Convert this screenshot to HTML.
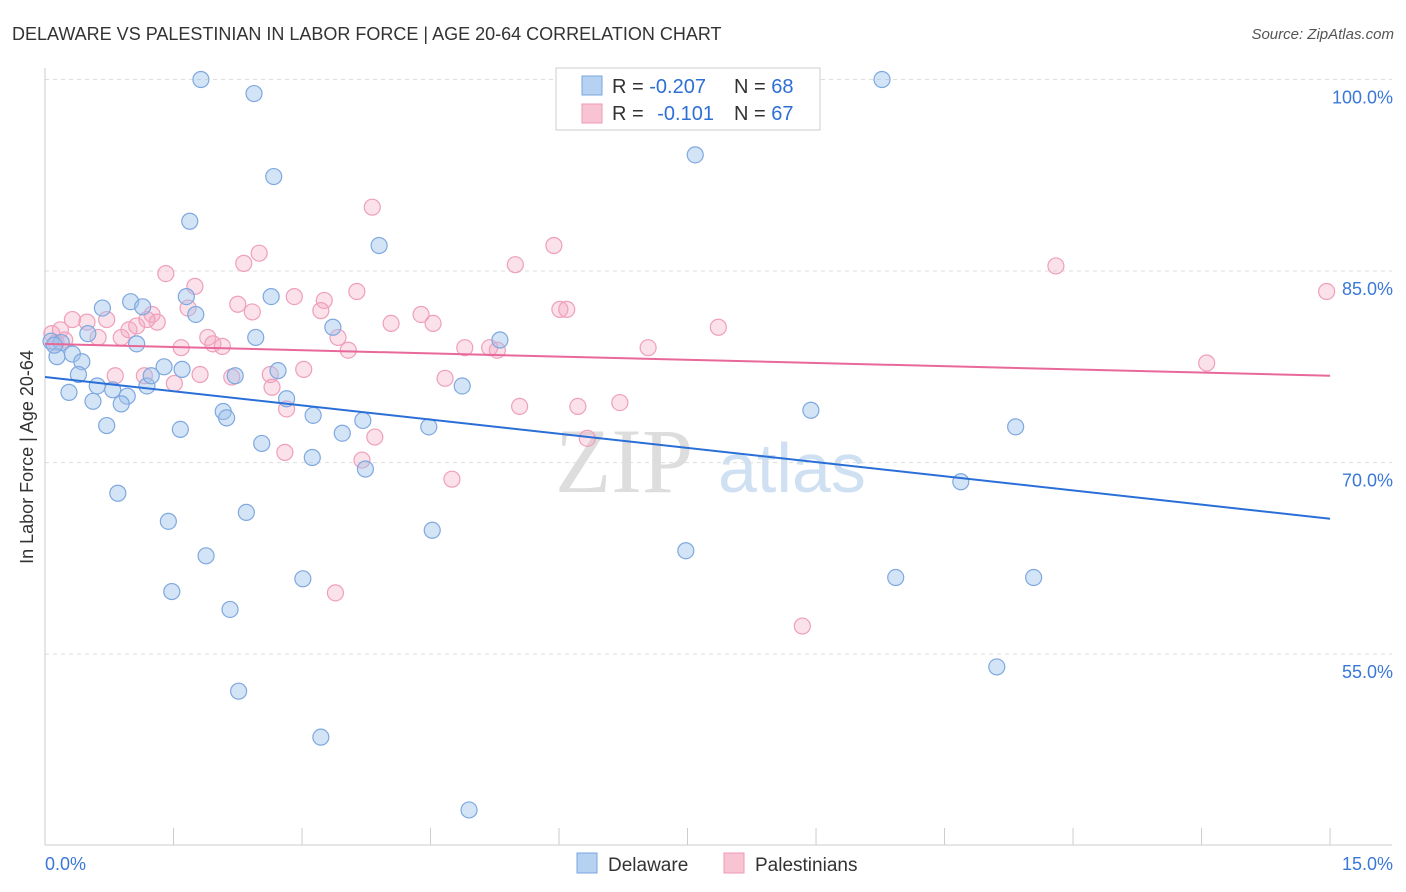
<!DOCTYPE html>
<html><head><meta charset="utf-8"><style>
body{margin:0;background:#fff;font-family:"Liberation Sans",sans-serif;}
svg{display:block}
</style></head><body>
<svg id="chart" width="1406" height="892">
<text x="12" y="40" font-size="18" fill="#333">DELAWARE VS PALESTINIAN IN LABOR FORCE | AGE 20-64 CORRELATION CHART</text>
<text x="1394" y="39" font-size="15" fill="#555" font-style="italic" text-anchor="end">Source: ZipAtlas.com</text>
<g><text x="555" y="492" font-size="92" font-family="Liberation Serif,serif" fill="#ddd">ZIP</text><text x="718" y="492" font-size="70" fill="#cfe0f3">atlas</text></g>
<g id="grid"></g><g id="axes"></g><g id="pts"></g><g id="trend"></g>
<text x="33" y="457" font-size="18" fill="#333" text-anchor="middle" transform="rotate(-90 33 457)">In Labor Force | Age 20-64</text>
<g>
<rect x="556" y="68" width="264" height="62" fill="#fff" stroke="#ccc"/>
<rect x="582" y="76" width="20" height="19" fill="#b7d1f3" stroke="#7aa6e0"/>
<rect x="582" y="104" width="20" height="19" fill="#f8c4d4" stroke="#ee9ab5"/>
<text x="612" y="93" font-size="20" fill="#333">R = <tspan fill="#2e6fd6">-0.207</tspan></text>
<text x="734" y="93" font-size="20" fill="#333">N = <tspan fill="#2e6fd6">68</tspan></text>
<text x="612" y="120" font-size="20" fill="#333">R = <tspan dx="8" fill="#2e6fd6">-0.101</tspan></text>
<text x="734" y="120" font-size="20" fill="#333">N = <tspan fill="#2e6fd6">67</tspan></text>
</g>
<g>
<rect x="577" y="853" width="20" height="20" fill="#b7d1f3" stroke="#7aa6e0"/>
<text x="608" y="871" font-size="19" fill="#333">Delaware</text>
<rect x="724" y="853" width="20" height="20" fill="#f8c4d4" stroke="#ee9ab5"/>
<text x="755" y="871" font-size="19" fill="#333">Palestinians</text>
</g>
</svg>
<script>
const yTicks=[100,85,70,55];
const yTickLabels=["100.0%","85.0%","70.0%","55.0%"];
const xTickLabels=["0.0%","15.0%"];
const delX=[1.82,2.44,2.67,1.69,3.90,7.59,9.77,0.67,1.00,1.14,1.65,1.76,2.64,0.07,0.19,0.14,0.32,0.43,0.50,1.07,3.36,5.31,2.46,0.39,0.61,0.28,0.56,0.79,0.96,0.89,1.19,1.24,1.39,1.60,2.22,2.72,2.82,4.87,0.72,1.58,2.08,2.12,2.53,3.13,3.47,3.71,3.12,3.74,4.48,0.85,1.44,2.35,1.88,1.48,2.16,3.01,4.52,2.26,3.22,4.95,7.48,8.94,10.69,11.33,9.93,11.54,11.11,0.11];
const delY=[100.0,98.9,92.4,88.9,87.0,94.1,100.0,82.1,82.6,82.2,83.0,81.6,83.0,79.5,79.4,78.3,78.5,77.9,80.1,79.3,80.6,79.6,79.8,76.9,76.0,75.5,74.8,75.7,75.2,74.6,76.0,76.8,77.5,77.3,76.8,77.2,75.0,76.0,72.9,72.6,74.0,73.5,71.5,73.7,72.3,73.3,70.4,69.5,72.8,67.6,65.4,66.1,62.7,59.9,58.5,60.9,64.7,52.1,48.5,42.8,63.1,74.1,68.5,72.8,61.0,61.0,54.0,79.2];
const palX=[3.82,5.94,2.50,2.32,1.41,1.75,5.49,11.80,14.96,2.91,3.26,3.22,3.64,2.25,2.42,1.67,4.39,4.04,4.53,6.01,6.09,7.86,0.08,0.18,0.32,0.49,0.72,0.23,0.62,0.98,1.07,1.25,1.31,0.89,1.59,1.90,1.96,2.07,3.42,3.54,4.90,5.19,5.28,7.04,13.56,0.82,1.16,1.51,1.81,2.18,2.63,3.02,2.65,2.82,4.67,5.54,6.22,6.71,3.85,3.70,6.33,2.80,4.75,3.39,8.84,0.13,1.19];
const palY=[90.0,87.0,86.4,85.6,84.8,83.8,85.5,85.4,83.4,83.0,82.7,81.9,83.4,82.4,81.8,82.1,81.6,80.9,80.9,82.0,82.0,80.6,80.1,80.4,81.2,81.0,81.2,79.6,79.8,80.4,80.7,81.6,81.0,79.8,79.0,79.8,79.3,79.1,79.8,78.8,79.0,79.0,78.8,79.0,77.8,76.8,76.8,76.2,76.9,76.7,76.9,77.3,75.9,74.2,76.6,74.4,74.4,74.7,72.0,70.2,71.9,70.8,68.7,59.8,57.2,79.4,81.2];
const delTrend=[76.7,65.6];
const palTrend=[79.3,76.8];
const xs=v=>45+v*85.67;
const ys=v=>79.5+(100-v)*12.77;
const NS="http://www.w3.org/2000/svg";
function mk(parent,tag,at){const e=document.createElementNS(NS,tag);for(const k in at)e.setAttribute(k,at[k]);document.getElementById(parent).appendChild(e);return e;}
yTicks.forEach((t,i)=>{
 const l=mk('grid','line',{x1:45,x2:1392,y1:ys(t),y2:ys(t),stroke:'#ddd','stroke-dasharray':'4 4'});
 
 
 const tx=mk('grid','text',{x:1393,y:ys(t)+24,'font-size':18,fill:'#3a78d8','text-anchor':'end'});
 tx.textContent=yTickLabels[i];
 
 
});
let a=mk('axes','line',{x1:45,x2:45,y1:68,y2:845,stroke:'#ccc'});

a=mk('axes','line',{x1:45,x2:1392,y1:845,y2:845,stroke:'#ccc'});

for(let i=0;i<=10;i++){const t=mk('axes','line',{x1:xs(i*1.5),x2:xs(i*1.5),y1:828,y2:845,stroke:'#ccc'});
 
 }
[[0,'start',45],[15,'end',1393]].forEach((d,i)=>{const t=mk('axes','text',{x:d[2],y:870,'font-size':18,fill:'#3a78d8','text-anchor':d[1]});t.textContent=xTickLabels[i];
 
 });
palX.forEach((x,i)=>{const c=mk('pts','circle',{cx:xs(x),cy:ys(palY[i]),r:8,fill:'rgba(244,170,195,0.35)',stroke:'#ef9fba','stroke-width':1.2});
 
 });
delX.forEach((x,i)=>{const c=mk('pts','circle',{cx:xs(x),cy:ys(delY[i]),r:8,fill:'rgba(160,195,238,0.45)',stroke:'#7ea8df','stroke-width':1.2});
 
 });
let tl=mk('trend','line',{x1:xs(0),x2:xs(15),y1:ys(delTrend[0]),y2:ys(delTrend[1]),stroke:'#2a6fd8','stroke-width':2});

tl=mk('trend','line',{x1:xs(0),x2:xs(15),y1:ys(palTrend[0]),y2:ys(palTrend[1]),stroke:'#e8689a','stroke-width':2});

</script>
</body></html>
